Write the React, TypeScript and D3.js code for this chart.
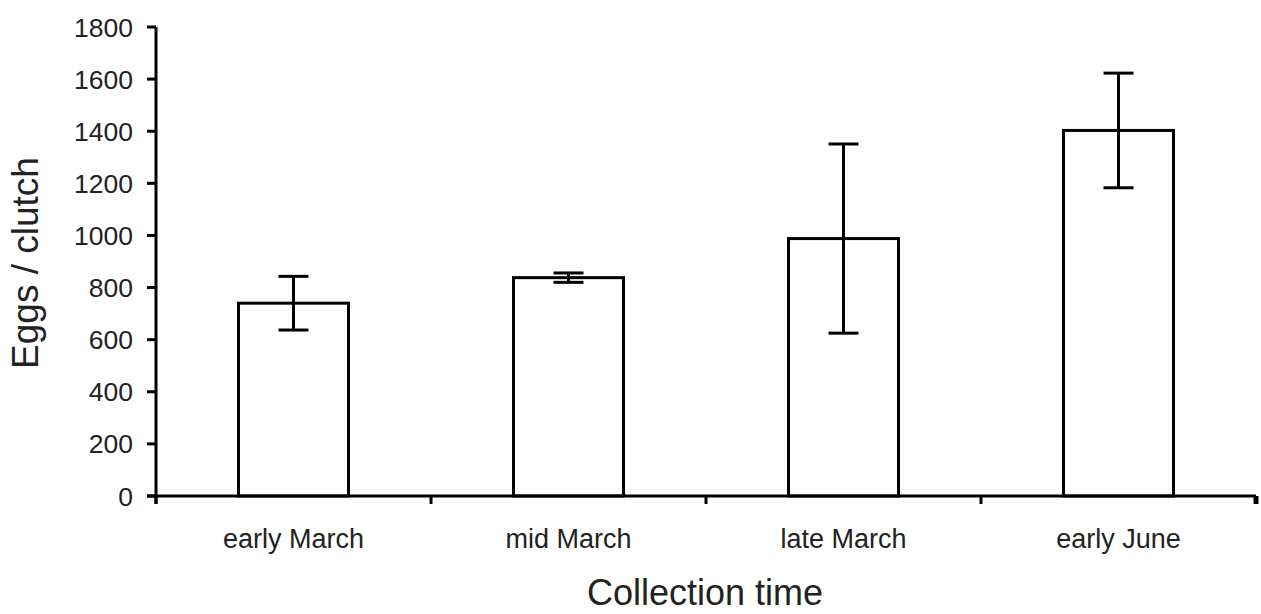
import React from 'react';
import * as d3 from 'd3';

const categories = ['early March', 'mid March', 'late March', 'early June'];
const means = [740, 838, 988, 1403];
const errors = [103, 18, 363, 220];
const yTicks = [0, 200, 400, 600, 800, 1000, 1200, 1400, 1600, 1800];

const W = 1261;
const H = 614;
const margin = { top: 27, right: 5, bottom: 118, left: 156 };

const App = () => {
    const x = d3.scaleBand<string>()
        .domain(categories)
        .range([margin.left, W - margin.right])
        .paddingInner(0.6)
        .paddingOuter(0.3);

    const y = d3.scaleLinear()
        .domain([0, 1800])
        .range([H - margin.bottom, margin.top]);

    const step = x.step();
    const y0 = y(0);
    const font = 'Liberation Sans, Arial, sans-serif';
    const capW = 30;

    return (
        <svg width={W} height={H} style={{ position: 'absolute', left: 0, top: 0, background: '#fff' }}>
            {/* bars */}
            {categories.map((c, i) => {
                const bx = x(c)!;
                const cx = bx + x.bandwidth() / 2;
                const hi = y(means[i] + errors[i]);
                const lo = y(means[i] - errors[i]);
                return (
                    <g key={c}>
                        <rect x={bx} y={y(means[i])} width={x.bandwidth()} height={y0 - y(means[i])}
                            fill="#fff" stroke="#000" strokeWidth={3} />
                        <line x1={cx} x2={cx} y1={hi} y2={lo} stroke="#000" strokeWidth={3} />
                        <line x1={cx - capW / 2} x2={cx + capW / 2} y1={hi} y2={hi} stroke="#000" strokeWidth={3} />
                        <line x1={cx - capW / 2} x2={cx + capW / 2} y1={lo} y2={lo} stroke="#000" strokeWidth={3} />
                    </g>
                );
            })}

            {/* y axis */}
            <line x1={margin.left} x2={margin.left} y1={y(1800)} y2={y0 + 8} stroke="#000" strokeWidth={3} />
            {yTicks.map(t => (
                <g key={t}>
                    <line x1={margin.left - 9} x2={margin.left} y1={y(t)} y2={y(t)} stroke="#000" strokeWidth={3} />
                    <text x={133} y={y(t)} dy="0.36em" textAnchor="end"
                        fontFamily={font} fontSize={26.5} fill="#222">{t}</text>
                </g>
            ))}

            {/* x axis */}
            <line x1={margin.left - 9} x2={W - margin.right} y1={y0} y2={y0} stroke="#000" strokeWidth={3} />
            {d3.range(categories.length + 1).map(i => {
                const tx = margin.left + i * step;
                return <line key={i} x1={tx} x2={tx} y1={y0} y2={y0 + 8} stroke="#000" strokeWidth={i === categories.length ? 5 : 3} />;
            })}
            {categories.map(c => (
                <text key={c} x={x(c)! + x.bandwidth() / 2} y={548} textAnchor="middle"
                    fontFamily={font} fontSize={27} fill="#222">{c}</text>
            ))}

            {/* titles */}
            <text x={705} y={605} textAnchor="middle" fontFamily={font} fontSize={36} fill="#222">Collection time</text>
            <text transform={`translate(38, 263) rotate(-90)`} textAnchor="middle"
                fontFamily={font} fontSize={37} fill="#222">Eggs / clutch</text>
        </svg>
    );
};

export default App;
